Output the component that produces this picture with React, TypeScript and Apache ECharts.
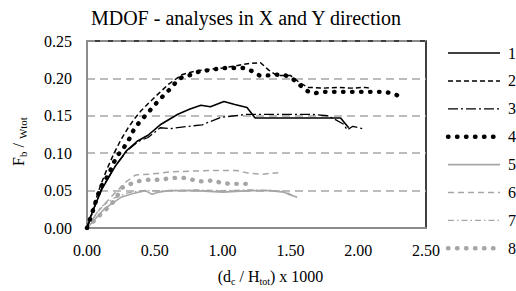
import React, { useEffect, useRef } from "react";
import * as echarts from "echarts";

const FONT = "Liberation Serif, DejaVu Serif, serif";
const BLACK = "#000000";
const GRAY = "#a6a6a6";

const titleText = "MDOF - analyses in X and Y direction";
const seriesNames = ["1", "2", "3", "4", "5", "6", "7", "8"];
const xTicks = { min: 0, max: 2.5, interval: 0.5 };
const yTicks = { min: 0, max: 0.25, interval: 0.05 };

const series1 = [[0,0],[0.04,0.022],[0.11,0.052],[0.21,0.083],[0.29,0.103],[0.37,0.116],[0.45,0.124],[0.54,0.138],[0.67,0.152],[0.76,0.159],[0.84,0.164],[0.91,0.162],[1.01,0.169],[1.09,0.165],[1.18,0.161],[1.24,0.147],[1.5,0.147],[1.7,0.147],[1.87,0.147],[1.93,0.134]];
const series2 = [[0,0],[0.05,0.03],[0.1,0.057],[0.15,0.08],[0.2,0.1],[0.25,0.118],[0.3,0.133],[0.35,0.146],[0.4,0.157],[0.5,0.175],[0.6,0.192],[0.7,0.205],[0.8,0.21],[0.9,0.212],[1.0,0.214],[1.1,0.217],[1.2,0.22],[1.28,0.221],[1.34,0.211],[1.4,0.204],[1.5,0.204],[1.57,0.194],[1.63,0.188],[1.75,0.187],[1.85,0.188],[1.95,0.187],[2.05,0.188],[2.09,0.187]];
const series3 = [[0,0],[0.1,0.05],[0.2,0.081],[0.3,0.104],[0.38,0.116],[0.45,0.121],[0.54,0.134],[0.62,0.133],[0.75,0.136],[0.85,0.138],[0.99,0.148],[1.18,0.152],[1.41,0.152],[1.65,0.152],[1.78,0.15],[1.82,0.146],[1.89,0.139],[1.92,0.131],[1.96,0.136],[2.05,0.132]];
const series4 = [[0,0],[0.043,0.023],[0.071,0.039],[0.099,0.054],[0.135,0.064],[0.17,0.076],[0.199,0.088],[0.234,0.099],[0.27,0.107],[0.312,0.119],[0.341,0.13],[0.376,0.139],[0.419,0.148],[0.483,0.161],[0.526,0.17],[0.575,0.179],[0.625,0.188],[0.66,0.196],[0.703,0.202],[0.774,0.205],[0.838,0.21],[0.909,0.211],[0.966,0.213],[1.03,0.214],[1.094,0.214],[1.158,0.214],[1.214,0.21],[1.271,0.204],[1.335,0.204],[1.399,0.205],[1.463,0.204],[1.513,0.2],[1.57,0.191],[1.626,0.183],[1.676,0.18],[1.74,0.182],[1.8,0.182],[1.875,0.182],[1.94,0.182],[2.0,0.182],[2.07,0.182],[2.14,0.182],[2.2,0.182],[2.27,0.179],[2.33,0.174]];
const series5 = [[0,0],[0.13,0.026],[0.25,0.041],[0.34,0.046],[0.43,0.05],[0.48,0.045],[0.53,0.048],[0.6,0.05],[0.8,0.05],[1.0,0.048],[1.1,0.049],[1.2,0.05],[1.35,0.05],[1.45,0.048],[1.5,0.044],[1.55,0.041]];
const series6 = [[0,0],[0.08,0.022],[0.18,0.042],[0.29,0.062],[0.36,0.071],[0.46,0.072],[0.62,0.075],[0.77,0.076],[0.93,0.077],[1.1,0.077],[1.2,0.073],[1.3,0.072],[1.41,0.074]];
const series7 = [[0,0],[0.1,0.028],[0.2,0.04],[0.3,0.047],[0.4,0.05],[0.6,0.05],[0.8,0.051],[1.0,0.05],[1.2,0.051],[1.4,0.05],[1.48,0.047],[1.52,0.043]];
const series8 = [[0,0],[0.07,0.013],[0.13,0.023],[0.2,0.036],[0.26,0.054],[0.31,0.058],[0.36,0.062],[0.43,0.064],[0.48,0.065],[0.55,0.064],[0.61,0.067],[0.68,0.067],[0.74,0.067],[0.8,0.063],[0.87,0.062],[0.93,0.064],[0.99,0.06],[1.07,0.059],[1.12,0.059],[1.18,0.059]];

const allData = [series1, series2, series3, series4, series5, series6, series7, series8];
const lineStyles: any[] = [
  { color: BLACK, width: 1.6, type: "solid" },
  { color: BLACK, width: 1.5, type: [5, 3] },
  { color: BLACK, width: 1.3, type: [10, 3, 2, 3] },
  { color: BLACK, width: 4.4, type: [0.5, 8.5], cap: "round" },
  { color: GRAY, width: 1.6, type: "solid" },
  { color: GRAY, width: 1.5, type: [6, 4] },
  { color: GRAY, width: 1.3, type: [6, 3, 1.5, 3] },
  { color: GRAY, width: 4.4, type: [0.5, 8.5], cap: "round" },
];

const LEG_X = 448;
const LEG_W = 52;
const LEG_Y0 = 53;
const LEG_STEP = 27.9;

function legendGraphics() {
  const out: any[] = [];
  seriesNames.forEach((name, i) => {
    const ls = lineStyles[i];
    const y = LEG_Y0 + LEG_STEP * i;
    out.push({
      type: "line",
      silent: true,
      shape: { x1: LEG_X, y1: y, x2: LEG_X + LEG_W, y2: y },
      style: {
        stroke: ls.color,
        lineWidth: ls.width,
        lineDash: Array.isArray(ls.type) ? ls.type : null,
        lineCap: ls.cap || "butt",
      },
    });
    out.push({
      type: "text",
      silent: true,
      x: LEG_X + LEG_W + 8,
      y,
      style: {
        text: name,
        font: `16px ${FONT}`,
        fill: BLACK,
        verticalAlign: "middle",
        align: "left",
      },
    });
  });
  return out;
}

export default function App() {
  const ref = useRef<HTMLDivElement>(null);
  useEffect(() => {
    if (!ref.current) return;
    const chart = echarts.init(ref.current, null, { renderer: "svg" });
    chart.setOption({
      animation: false,
      title: {
        text: titleText,
        left: 241,
        textAlign: "center",
        top: 3,
        textStyle: { fontFamily: FONT, fontSize: 20, fontWeight: "normal", color: BLACK },
      },
      grid: {
        left: 74,
        right: 90,
        top: 41,
        bottom: 56,
        show: true,
        borderColor: BLACK,
        borderWidth: 1.5,
        backgroundColor: "transparent",
      },
      xAxis: {
        type: "value",
        min: xTicks.min,
        max: xTicks.max,
        interval: xTicks.interval,
        axisLine: { show: true, lineStyle: { color: "#8c8c8c", width: 2 } },
        axisTick: { show: false },
        splitLine: { show: false },
        axisLabel: {
          margin: 14,
          fontFamily: FONT,
          fontSize: 16,
          color: BLACK,
          formatter: (v: number) => v.toFixed(2),
        },
        name: "(d{sub|c} / H{sub|tot}) x 1000",
        nameLocation: "middle",
        nameGap: 38,
        nameTextStyle: {
          fontFamily: FONT,
          fontSize: 16,
          color: BLACK,
          lineHeight: 20,
          padding: [0, 0, 0, 28],
          rich: { sub: { fontFamily: FONT, fontSize: 10, lineHeight: 20, verticalAlign: "bottom", color: BLACK } },
        },
      },
      yAxis: {
        type: "value",
        min: yTicks.min,
        max: yTicks.max,
        interval: yTicks.interval,
        axisLine: { show: true, lineStyle: { color: "#8c8c8c", width: 2 } },
        axisTick: { show: false },
        splitLine: { show: true, lineStyle: { color: GRAY, width: 1.5, type: [8, 5] } },
        axisLabel: {
          margin: 15,
          fontFamily: FONT,
          fontSize: 16,
          color: BLACK,
          formatter: (v: number) => v.toFixed(2),
        },
        name: "F{sub|b} / {sub|Wtot}",
        nameLocation: "middle",
        nameRotate: 90,
        nameGap: 59,
        nameTextStyle: {
          fontFamily: FONT,
          fontSize: 16,
          color: BLACK,
          lineHeight: 20,
          padding: [0, 14, 0, 0],
          rich: { sub: { fontFamily: FONT, fontSize: 11, lineHeight: 20, verticalAlign: "bottom", color: BLACK } },
        },
      },
      graphic: legendGraphics(),
      series: allData.map((d, i) => ({
        name: seriesNames[i],
        type: "line",
        data: d,
        symbol: "none",
        showSymbol: false,
        silent: true,
        lineStyle: lineStyles[i],
        itemStyle: { color: lineStyles[i].color },
        z: 10 - i,
      })),
    });
    return () => chart.dispose();
  }, []);
  return (
    <div
      ref={ref}
      style={{ position: "fixed", left: 0, top: 0, width: 516, height: 291, background: "#fff" }}
    />
  );
}
